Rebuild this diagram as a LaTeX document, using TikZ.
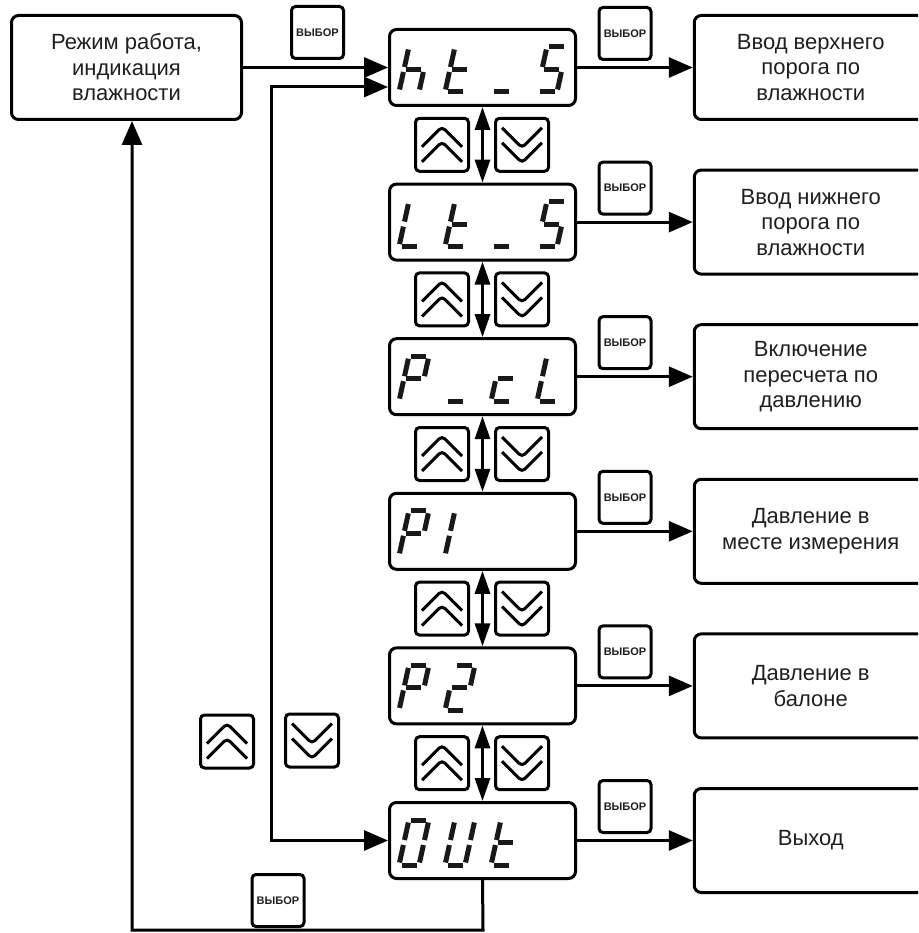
\documentclass[tikz,border=0pt]{standalone}
\usepackage{fontspec}
\setmainfont{Liberation Sans}
\usetikzlibrary{arrows.meta}
\def\sga{\draw[segl] (2.5,-45) -- (17.5,-45);}
\def\sgb{\draw[segl] (20,-42.5) -- (20,-25);}
\def\sgc{\draw[segl] (20,-20) -- (20,-2.5);}
\def\sgd{\draw[segl] (2.5,0) -- (17.5,0);}
\def\sge{\draw[segl] (0,-2.5) -- (0,-20);}
\def\sgf{\draw[segl] (0,-25) -- (0,-42.5);}
\def\sgg{\draw[segl] (2.5,-22.5) -- (17.5,-22.5);}
\newcommand\segchar[3]{%
  \begin{scope}[shift={(#1,#2)},xslant=0.22]
    \foreach \q in {#3}{\csname sg\q\endcsname}
  \end{scope}}
\newcommand\chev[6]{\draw[line width=3pt,line join=miter]
  ([shift={(#1pt,#2pt)}]path picture bounding box.center) --
  ([shift={(#3pt,#4pt)}]path picture bounding box.center) --
  ([shift={(#5pt,#6pt)}]path picture bounding box.center);}
\tikzset{
  lbl/.style={draw, line width=3pt, rounded corners=7pt, align=center, inner sep=0pt,
    font=\fontsize{22}{25.5}\selectfont, text=black!88},
  leftbox/.style={lbl, minimum width=230pt, minimum height=104pt},
  rbox/.style={lbl, minimum width=233pt, minimum height=104pt},
  disp/.style={draw, line width=3pt, rounded corners=7pt, minimum width=186pt,
    minimum height=76pt, inner sep=0pt},
  selbtn/.style={draw, line width=3pt, rounded corners=4pt, minimum width=52pt,
    minimum height=52pt, inner sep=0pt, text=black!88,
    font=\bfseries\fontsize{11}{11}\selectfont},
  updn/.style={draw, line width=3pt, rounded corners=4pt, minimum size=53pt, inner sep=0pt},
  upbtn/.style={updn, path picture={\chev{-20}{-2}{0}{18}{20}{-2}\chev{-20}{-17}{0}{3}{20}{-17}}},
  dnbtn/.style={updn, path picture={\chev{-20}{17}{0}{-3}{20}{17}\chev{-20}{2}{0}{-18}{20}{2}}},
  segl/.style={line width=5pt, black!90},
  conn/.style={line width=3pt, -{Triangle[length=24pt,width=20pt]}},
  dconn/.style={line width=3pt, {Triangle[length=24pt,width=20pt]}-{Triangle[length=24pt,width=20pt]}},
  vconn/.style={line width=3pt, {Triangle[length=23pt,width=15pt]}-{Triangle[length=23pt,width=15pt]}},
}
\begin{document}
\begin{tikzpicture}[x=1pt,y=-1pt]
\useasboundingbox (0,0) rectangle (918,933);
\clip (0,0) rectangle (918,933);
% left box
\node[leftbox] (L) at (126.5,67.5) {Режим работа,\\индикация\\влажности};
\node[selbtn] (s0) at (317.5,32.5) {ВЫБОР};
\node[selbtn] (s7) at (278,900.5) {ВЫБОР};
\node[upbtn] (lu) at (227,741.5) {};
\node[dnbtn] (ld) at (312,740.5) {};
% displays
\node[disp] (d1) at (482.5,67.5) {};
\node[disp] (d2) at (482.5,222.1) {};
\node[disp] (d3) at (482.5,376.7) {};
\node[disp] (d4) at (482.5,531.3) {};
\node[disp] (d5) at (482.5,685.9) {};
\node[disp] (d6) at (482.5,840.5) {};
% select buttons
\node[selbtn] (s1) at (625,33.5) {ВЫБОР};
\node[selbtn] (s2) at (625,188.1) {ВЫБОР};
\node[selbtn] (s3) at (625,342.7) {ВЫБОР};
\node[selbtn] (s4) at (625,497.3) {ВЫБОР};
\node[selbtn] (s5) at (625,651.9) {ВЫБОР};
\node[selbtn] (s6) at (625,806.5) {ВЫБОР};
% right boxes
\node[rbox] (r1) at (810.75,67.5) {Ввод верхнего\\порога по\\влажности};
\node[rbox] (r2) at (810.75,222.1) {Ввод нижнего\\порога по\\влажности};
\node[rbox] (r3) at (810.75,376.7) {Включение\\пересчета по\\давлению};
\node[rbox] (r4) at (810.75,531.3) {Давление в\\месте измерения};
\node[rbox] (r5) at (810.75,685.9) {Давление в\\балоне};
\node[rbox] (r6) at (810.75,840.5) {Выход};
% up/down buttons between displays
\foreach \yy [count=\k] in {144.8,299.4,454,608.6,763.2}{
  \node[upbtn] (u\k) at (442,\yy) {};
  \node[dnbtn] (w\k) at (522,\yy) {};
}
% display characters
\segchar{399}{92}{f,e,g,c}\segchar{445}{92}{f,e,g,d}\segchar{491}{92}{d}\segchar{537}{92}{a,f,g,c,d}
\segchar{399}{246.6}{f,e,d}\segchar{445}{246.6}{f,e,g,d}\segchar{491}{246.6}{d}\segchar{537}{246.6}{a,f,g,c,d}
\segchar{399}{401.2}{a,b,f,g,e}\segchar{445}{401.2}{d}\segchar{491}{401.2}{g,e,d}\segchar{537}{401.2}{f,e,d}
\segchar{399}{555.8}{a,b,f,g,e}\segchar{445}{555.8}{f,e}
\segchar{399}{710.4}{a,b,f,g,e}\segchar{445}{710.4}{a,b,g,e,d}
\segchar{399}{865}{a,b,c,d,e,f}\segchar{445}{865}{b,c,d,e,f}\segchar{491}{865}{f,e,g,d}
% connectors
\draw[conn] (L.east) -- (d1.west);
\foreach \k in {1,...,6}{\draw[conn] (d\k.east) -- (r\k.west);}
\foreach \k [evaluate=\k as \n using int(\k+1)] in {1,...,5}{\draw[vconn] (d\k.south) -- (d\n.north);}
\coordinate (d1b) at ([yshift=-19.5pt]d1.west);
\coordinate (lt) at (271,87);
\coordinate (lb) at (271,840.5);
\draw[dconn] (d1b) -- (lt) -- (lb) -- (d6.west);
\coordinate (br) at (483,930);
\coordinate (bl) at (132,930);
\draw[conn] (d6.south) -- (br) -- (bl) -- (L.south -| bl);
\end{tikzpicture}
\end{document}
